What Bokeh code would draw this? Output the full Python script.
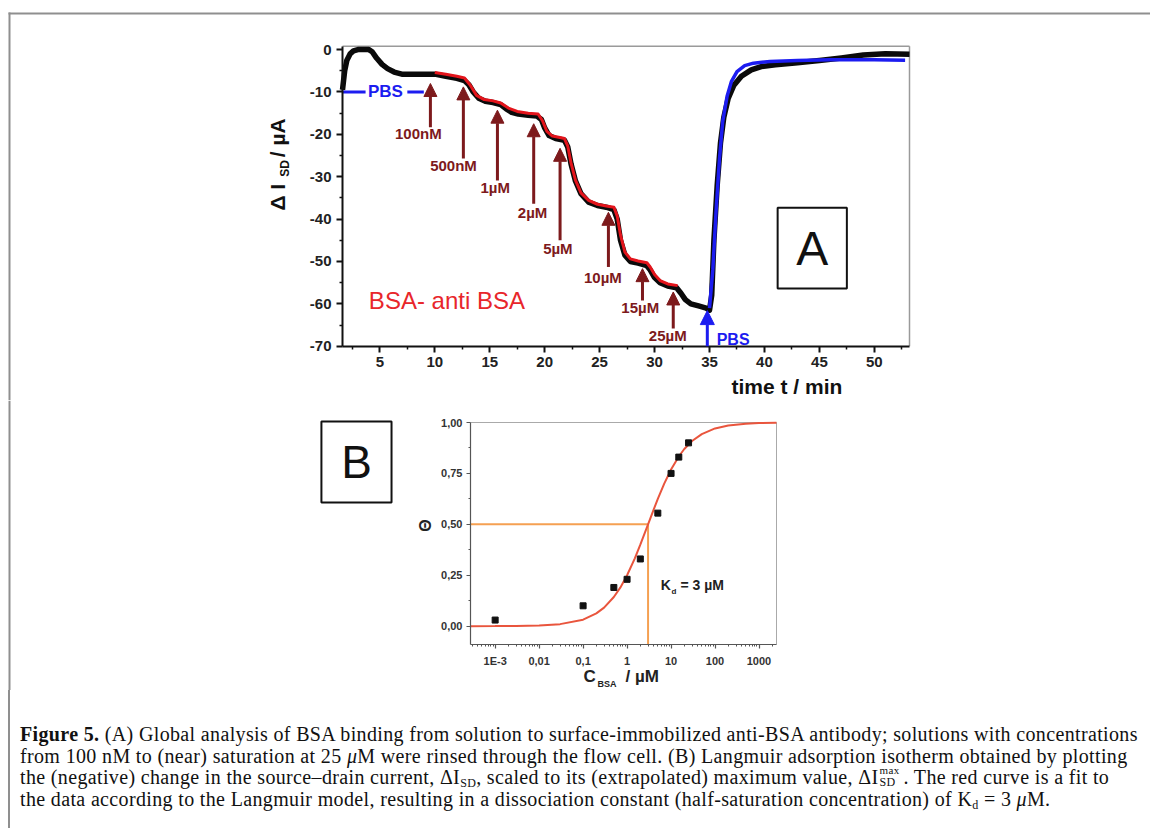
import math
from bokeh.plotting import figure
from bokeh.models import Range1d, FixedTicker, Arrow, NormalHead, ColumnDataSource, Div
from bokeh.layouts import column
from bokeh.core.properties import value
from bokeh.embed import file_html
from bokeh.resources import INLINE

# ---------------- data: panel A (time trace) ----------------
t_black = [1.6, 1.8, 2.0, 2.3, 2.6, 3.0, 3.5, 4.0, 4.3, 4.7, 5.2, 5.7, 6.3, 7.0, 8.0, 9.0,
           10.0, 11.0, 12.0, 12.7, 13.1, 13.5, 14.0, 14.6, 15.3, 16.0, 16.5, 17.0, 17.6,
           18.5, 19.3, 19.7, 20.0, 20.4, 21.0, 21.8, 22.1, 22.4, 22.8, 23.3, 24.0, 24.8,
           25.6, 26.3, 26.6, 26.9, 27.3, 27.8, 28.5, 29.3, 29.6, 30.0, 30.5, 31.2, 32.0,
           32.4, 32.8, 33.3, 34.0, 34.7, 35.0, 35.2, 35.4, 35.7, 36.0, 36.3, 36.7, 37.2,
           37.9, 38.8, 39.7, 41.0, 43.0, 45.0, 47.0, 49.0, 51.0, 53.2]
i_black = [-9.5, -5.0, -2.5, -1.0, -0.3, 0.0, 0.0, 0.0, -0.5, -2.0, -3.5, -4.5, -5.3, -5.8,
           -5.8, -5.8, -5.8, -6.3, -6.8, -7.3, -8.3, -10.0, -11.5, -12.2, -12.5, -13.0,
           -14.0, -14.8, -15.2, -15.5, -15.7, -16.5, -18.5, -20.3, -21.0, -21.4, -23.0,
           -27.0, -31.0, -34.0, -36.0, -36.8, -37.2, -37.8, -40.0, -45.0, -48.5, -50.0,
           -50.4, -51.0, -52.0, -53.8, -55.0, -55.8, -56.2, -57.5, -59.0, -60.0, -60.5,
           -61.0, -61.5, -58.0, -45.0, -32.0, -22.0, -16.0, -11.5, -8.5, -6.3, -4.8, -4.0,
           -3.6, -3.1, -2.6, -2.0, -1.3, -1.0, -1.1]

t_fit = [10.0, 11.0, 12.0, 12.7, 13.2, 13.8, 14.5, 15.3, 16.0, 16.7, 17.5, 18.5, 19.4,
         19.8, 20.2, 20.7, 21.5, 21.8, 22.1, 22.4, 22.8, 23.3, 24.0, 24.8, 25.6, 26.3,
         26.6, 26.9, 27.3, 27.8, 28.5, 29.3, 29.6, 30.0, 30.5, 31.2, 32.1]
i_fit = [-5.4, -5.8, -6.3, -6.7, -8.3, -10.8, -11.8, -12.1, -12.6, -13.8, -14.6, -15.0,
         -15.2, -16.8, -19.3, -20.4, -20.8, -21.0, -22.8, -26.8, -30.8, -33.8, -35.6,
         -36.5, -36.9, -37.2, -39.3, -43.8, -47.8, -49.4, -49.9, -50.3, -51.3, -53.1,
         -54.5, -55.3, -55.7]

t_blue = [35.0, 35.3, 35.6, 35.9, 36.2, 36.6, 37.0, 37.5, 38.2, 39.0, 40.5, 43.0, 46.0,
          50.0, 52.8]
i_blue = [-61.0, -52.0, -38.0, -26.0, -17.0, -11.0, -7.5, -5.2, -3.8, -3.2, -2.8, -2.6,
          -2.4, -2.4, -2.5]

conc_labels = ["100nM", "500nM", "1µM", "2µM", "5µM", "10µM", "15µM", "25µM"]
arrow_t = [9.6, 12.6, 15.7, 19.0, 21.4, 25.8, 28.9, 31.7]
arrow_tip = [-8.0, -8.8, -14.3, -17.5, -23.3, -38.4, -51.7, -57.2]
arrow_tail = [-18.3, -25.7, -30.9, -36.4, -45.0, -51.3, -59.2, -65.8]
label_t = [8.5, 11.7, 15.5, 18.9, 21.2, 25.3, 28.7, 31.2]
label_i = [-19.8, -27.3, -32.5, -38.4, -47.0, -53.8, -60.9, -67.5]

pbs_arrow_t = [34.8]
pbs_arrow_tip = [-61.6]
pbs_arrow_tail = [-70.0]

pbs_line_x0 = [1.6, 7.5]
pbs_line_x1 = [3.7, 9.0]
pbs_line_y = [-10.0, -10.0]

a_xticks = [5, 10, 15, 20, 25, 30, 35, 40, 45, 50]
a_xminor = [2.5, 7.5, 12.5, 17.5, 22.5, 27.5, 32.5, 37.5, 42.5, 47.5, 52.5]
a_yticks = [-70, -60, -50, -40, -30, -20, -10, 0]
a_ylabels = ["-70", "-60", "-50", "-40", "-30", "-20", "-10", "0"]
a_yminor = [-65, -55, -45, -35, -25, -15, -5]

# ---------------- data: panel B (isotherm) ----------------
c_points = [0.001, 0.1, 0.5, 1.0, 2.0, 5.0, 10.0, 15.0, 25.0]
theta_points = [0.03, 0.10, 0.19, 0.23, 0.33, 0.555, 0.75, 0.83, 0.90]

c_curve = [2.75e-4, 1e-3, 3e-3, 0.01, 0.03, 0.1, 0.2, 0.3, 0.5, 0.7, 1.0, 1.5, 2.0, 3.0,
           4.0, 5.0, 7.0, 10.0, 15.0, 20.0, 30.0, 50.0, 100.0, 200.0, 500.0, 1000.0, 2500.0]
theta_curve = [0.0001, 0.0003, 0.001, 0.003, 0.01, 0.032, 0.063, 0.091, 0.143, 0.189,
               0.25, 0.333, 0.4, 0.5, 0.571, 0.625, 0.7, 0.769, 0.833, 0.870, 0.909,
               0.943, 0.971, 0.985, 0.994, 0.997, 0.999]
kd = 3.0
theta_half = 0.5

b_xticks = [1e-3, 1e-2, 1e-1, 1.0, 10.0, 100.0, 1000.0]
b_xlabels = ["1E-3", "0,01", "0,1", "1", "10", "100", "1000"]
b_yticks = [0.0, 0.25, 0.5, 0.75, 1.0]
b_ylabels = ["0,00", "0,25", "0,50", "0,75", "1,00"]
b_yminor = [0.125, 0.375, 0.625, 0.875]

SANS = "Liberation Sans"
DARKRED = "#7d1a1c"
BLUE = "#1c1cf0"
FRAMEGRAY = "#9a9a9a"
PAGEGRAY = "#8f8f8f"


def txt(p, x, y, s, size, color="#111111", style="bold", align="left",
        baseline="middle", angle=0.0):
    p.text(x=[x], y=[y], text=[s], text_font=value(SANS), text_font_style=style,
           text_font_size=size, text_color=color, text_align=align,
           text_baseline=baseline, angle=angle)


def style_axis(ax, color, lw, tick_out, minor_out, size, lcolor, standoff):
    ax.axis_line_color = color
    ax.axis_line_width = lw
    ax.major_tick_line_color = color
    ax.major_tick_line_width = lw
    ax.minor_tick_line_color = color
    ax.minor_tick_line_width = max(1.0, lw - 0.5)
    ax.major_tick_in = 0
    ax.major_tick_out = tick_out
    ax.minor_tick_in = 0
    ax.minor_tick_out = minor_out
    ax.major_label_text_font = SANS
    ax.major_label_text_font_style = "bold"
    ax.major_label_text_font_size = size
    ax.major_label_text_color = lcolor
    ax.major_label_standoff = standoff


# ================= Figure A =================
xa0, xa1 = 1.6, 53.2
ya0, ya1 = -70.0, 0.8
WA, HA = 1150, 400
FLA, FTA, FWA, FHA = 342, 45.7, 567, 300
kx = (xa1 - xa0) / FWA
ky = (ya1 - ya0) / FHA


def ax_px(px):  # canvas pixel -> data (A)
    return xa0 + (px - FLA) * kx


def ay_px(py):
    return ya1 - (py - FTA) * ky


pA = figure(width=WA, height=HA,
            x_range=Range1d(ax_px(0), ax_px(WA)), y_range=Range1d(ay_px(HA), ay_px(0)),
            min_border=0, output_backend="svg", toolbar_location=None)
pA.xgrid.visible = False
pA.ygrid.visible = False
pA.outline_line_color = None
pA.xaxis.fixed_location = ya0
pA.yaxis.fixed_location = xa0
pA.xaxis.bounds = (xa0, xa1)
pA.yaxis.bounds = (ya0, ya1)
pA.xaxis.ticker = FixedTicker(ticks=a_xticks, minor_ticks=a_xminor)
pA.yaxis.ticker = FixedTicker(ticks=a_yticks, minor_ticks=a_yminor)
pA.yaxis.major_label_overrides = {k: v for k, v in zip(a_yticks, a_ylabels)}
for ax in (pA.xaxis, pA.yaxis):
    style_axis(ax, "#111111", 2, 6, 3, "15px", "#222222", 5)

# page frame (top and left grey rules)
pA.line([ax_px(8), ax_px(WA)], [ay_px(13), ay_px(13)], line_color=PAGEGRAY, line_width=2)
pA.line([ax_px(9), ax_px(9)], [ay_px(12), ay_px(HA)], line_color=PAGEGRAY, line_width=2)

# grey top/right edges of the plot box
pA.line([xa0, xa1], [ya1, ya1], line_color=FRAMEGRAY, line_width=1.5)
pA.line([xa1, xa1], [ya0, ya1], line_color=FRAMEGRAY, line_width=1.5)

pA.line(t_black, i_black, line_color="#0a0a0a", line_width=5.5, line_join="round")
pA.line(t_fit, i_fit, line_color="#e3141b", line_width=3, line_join="round")
pA.line(t_blue, i_blue, line_color=BLUE, line_width=3.5, line_join="round")

arrow_src = ColumnDataSource(dict(xs=arrow_t, ys=arrow_tail, xe=arrow_t, ye=arrow_tip))
pA.add_layout(Arrow(end=NormalHead(size=13, fill_color=DARKRED, line_color=DARKRED),
                    x_start="xs", y_start="ys", x_end="xe", y_end="ye",
                    source=arrow_src, line_color=DARKRED, line_width=3))
pbs_src = ColumnDataSource(dict(xs=pbs_arrow_t, ys=pbs_arrow_tail, xe=pbs_arrow_t,
                                ye=pbs_arrow_tip))
pA.add_layout(Arrow(end=NormalHead(size=14, fill_color=BLUE, line_color=BLUE),
                    x_start="xs", y_start="ys", x_end="xe", y_end="ye",
                    source=pbs_src, line_color=BLUE, line_width=3))

pA.text(x=label_t, y=label_i, text=conc_labels, text_font=value(SANS),
        text_font_style="bold", text_font_size="15px", text_color=DARKRED,
        text_align="center", text_baseline="middle")

pA.segment(x0=pbs_line_x0, y0=pbs_line_y, x1=pbs_line_x1, y1=pbs_line_y,
           line_color=BLUE, line_width=3)
txt(pA, 5.5, -10.0, "PBS", "17px", BLUE, align="center")
txt(pA, 35.65, -68.4, "PBS", "16px", BLUE)
txt(pA, 4.0, -59.2, "BSA- anti BSA", "24px", "#e8262b", style="normal")

# panel letter A
box_a = dict(left=41.2, right=47.5, bottom=-56.4, top=-37.3)
pA.quad(left=[box_a["left"]], right=[box_a["right"]], bottom=[box_a["bottom"]],
        top=[box_a["top"]], fill_color="white", line_color="#111111", line_width=2)
txt(pA, (box_a["left"] + box_a["right"]) / 2, (box_a["bottom"] + box_a["top"]) / 2,
    "A", "48px", style="normal", align="center")

# axis titles of A
txt(pA, 37.0, -79.6, "time t / min", "21px")
rot = math.pi / 2
txt(pA, -4.3, -38.0, "Δ I", "21px", angle=rot)
txt(pA, -3.65, -30.0, "SD", "12px", angle=rot)
txt(pA, -4.3, -25.4, "/ µA", "21px", angle=rot)

# ================= Figure B =================
xb0, xb1 = 2.75e-4, 2500.0
yb0, yb1 = -0.09, 1.0
WB, HB = 786, 290
FLB, FTB, FWB, FHB = 470, 22, 306, 222
dec = math.log10(xb1 / xb0) / FWB
kyb = (yb1 - yb0) / FHB


def bx_px(px):  # canvas pixel -> data (B, log axis)
    return xb0 * 10 ** ((px - FLB) * dec)


def by_px(py):
    return yb1 - (py - FTB) * kyb


pB = figure(x_axis_type="log", width=WB, height=HB,
            x_range=Range1d(bx_px(0), bx_px(WB)), y_range=Range1d(by_px(HB), by_px(0)),
            min_border=0, output_backend="svg", toolbar_location=None)
pB.xgrid.visible = False
pB.ygrid.visible = False
pB.outline_line_color = None
pB.xaxis.fixed_location = yb0
pB.yaxis.fixed_location = xb0
pB.xaxis.bounds = (xb0, xb1)
pB.yaxis.bounds = (yb0, yb1)

b_xminor = [m * d for d in [1e-4, 1e-3, 1e-2, 1e-1, 1.0, 10.0, 100.0, 1000.0]
            for m in range(2, 10) if xb0 < m * d < xb1]
pB.xaxis.ticker = FixedTicker(ticks=b_xticks, minor_ticks=b_xminor)
pB.yaxis.ticker = FixedTicker(ticks=b_yticks, minor_ticks=b_yminor)
pB.xaxis.major_label_overrides = {k: v for k, v in zip(b_xticks, b_xlabels)}
pB.yaxis.major_label_overrides = {k: v for k, v in zip(b_yticks, b_ylabels)}
for ax in (pB.xaxis, pB.yaxis):
    style_axis(ax, "#555555", 1.2, 4, 2, "11px", "#333333", 4)
pB.xaxis.major_label_standoff = 6

# page frame (left grey rule)
pB.line([bx_px(9), bx_px(9)], [by_px(0), by_px(HB)], line_color=PAGEGRAY, line_width=2)

pB.line([xb0, xb1], [yb1, yb1], line_color="#aaaaaa", line_width=1)
pB.line([xb1, xb1], [yb0, yb1], line_color="#aaaaaa", line_width=1)

ORANGE = "#f5a052"
pB.line([xb0, kd], [theta_half, theta_half], line_color=ORANGE, line_width=2)
pB.line([kd, kd], [yb0, theta_half], line_color=ORANGE, line_width=2)
pB.line(c_curve, theta_curve, line_color="#e9553d", line_width=2)
pB.scatter(c_points, theta_points, marker="square", size=6, fill_color="#111111",
           line_color="#111111")

txt(pB, 5.8, 0.202, "K", "14px", "#222222")
txt(pB, 10.2, 0.172, "d", "8px", "#222222")
txt(pB, 16.4, 0.202, "= 3 µM", "14px", "#222222")

txt(pB, 2.6e-5, 0.494, "Θ", "16px", "#222222", align="center", angle=rot)
txt(pB, 0.102, -0.249, "C", "17px", "#222222")
txt(pB, 0.212, -0.286, "BSA", "9px", "#222222")
txt(pB, 0.921, -0.249, "/ µM", "17px", "#222222")

# panel letter B
box_b = dict(left=1.12e-7, right=4.4e-6, bottom=0.607, top=1.005)
pB.quad(left=[box_b["left"]], right=[box_b["right"]], bottom=[box_b["bottom"]],
        top=[box_b["top"]], fill_color="white", line_color="#111111", line_width=2)
txt(pB, math.sqrt(box_b["left"] * box_b["right"]), (box_b["bottom"] + box_b["top"]) / 2,
    "B", "46px", style="normal", align="center")

# ================= caption =================
stack = ('<span style="position:relative;display:inline-block;width:25px;height:0;'
         'vertical-align:baseline;">'
         '<span style="position:absolute;left:1px;top:-19px;font-size:11px;line-height:11px;">max</span>'
         '<span style="position:absolute;left:1px;top:-7px;font-size:12px;line-height:11px;">SD</span>'
         '</span>')
sub = '<span style="font-size:12px;line-height:0;vertical-align:-3px;">'
caption_lines = [
    '<b>Figure 5.</b> (A) Global analysis of BSA binding from solution to '
    'surface-immobilized anti-BSA antibody; solutions with concentrations',
    'from 100 nM to (near) saturation at 25 <i>μ</i>M were rinsed through the flow cell. '
    '(B) Langmuir adsorption isotherm obtained by plotting',
    'the (negative) change in the source–drain current, ΔI' + sub + 'SD</span>, scaled to its '
    '(extrapolated) maximum value, ΔI' + stack + '. The red curve is a fit to',
    'the data according to the Langmuir model, resulting in a dissociation constant '
    '(half-saturation concentration) of K' + sub + 'd</span> = 3 <i>μ</i>M.',
]
caption_html = (
    '<div style="margin-left:8px;border-left:2px solid ' + PAGEGRAY + ';height:138px;'
    'padding-left:10px;padding-top:34px;box-sizing:border-box;'
    'font-family:\'Liberation Serif\',\'Times New Roman\',serif;font-size:20px;'
    'color:#111;white-space:nowrap;letter-spacing:0.35px;">'
    + ''.join('<div style="height:21.7px;line-height:21.7px;overflow:visible;">' + ln + '</div>'
              for ln in caption_lines)
    + '</div>')
caption = Div(width=1150, height=138, margin=0, text=caption_html)

layout = column(pA, pB, caption)

open("out.html", "w").write(file_html(layout, INLINE))
